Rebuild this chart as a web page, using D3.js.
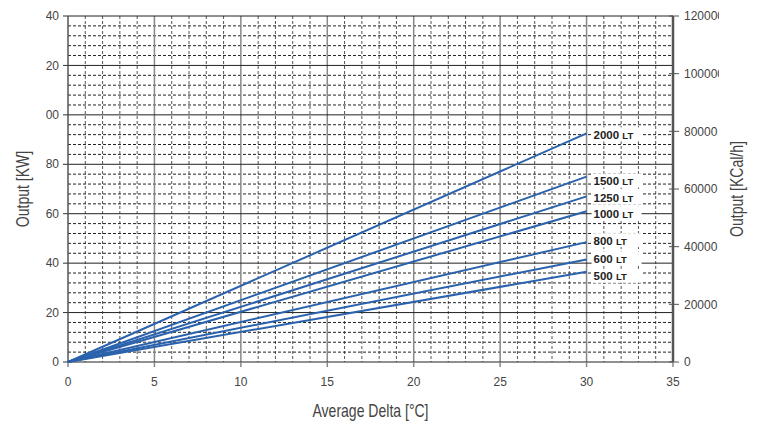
<!DOCTYPE html>
<html>
<head>
<meta charset="utf-8">
<script src="https://cdn.jsdelivr.net/npm/d3@7"></script>
<style>
  body { margin: 0; background: #fff; }
  svg { display: block; }
  .tick-label { font-family: Arial, "Liberation Sans", sans-serif; font-size: 12px; fill: #444; }
  .title { font-family: Arial, "Liberation Sans", sans-serif; font-size: 18px; fill: #444; }
  .lt { font-family: Arial, "Liberation Sans", sans-serif; font-weight: bold; fill: #222; }
</style>
</head>
<body>
<div id="chart"></div>
<script>
// Data: output at delta 0 and 30 °C per tank size
const deltas = [0, 30];
const tankSizes = ['2000', '1500', '1250', '1000', '800', '600', '500'];
const out2000 = [0, 92.5];
const out1500 = [0, 75];
const out1250 = [0, 67];
const out1000 = [0, 61];
const out800 = [0, 48.5];
const out600 = [0, 41.5];
const out500 = [0, 36.5];
const seriesValues = [out2000, out1500, out1250, out1000, out800, out600, out500];

const xTicks = [0, 5, 10, 15, 20, 25, 30, 35];
const yTicks = [0, 20, 40, 60, 80, 100, 120, 140];
const kcalTicks = [0, 20000, 40000, 60000, 80000, 100000, 120000];

const W = 762, H = 423;
const margin = { top: 16, right: 89, bottom: 61, left: 68 };
const width = W - margin.left - margin.right;
const height = H - margin.top - margin.bottom;

const svg = d3.select('#chart').append('svg')
  .attr('width', W)
  .attr('height', H);

// clip the tick labels like the original image
const defs = svg.append('defs');
defs.append('clipPath').attr('id', 'clipLeft')
  .append('rect').attr('x', 46).attr('y', 0).attr('width', 40).attr('height', H);
defs.append('clipPath').attr('id', 'clipRight')
  .append('rect').attr('x', 676).attr('y', 0).attr('width', 43).attr('height', H);

const g = svg.append('g')
  .attr('transform', `translate(${margin.left},${margin.top})`);

const x = d3.scaleLinear().domain([0, 35]).range([0, width]);
const y = d3.scaleLinear().domain([0, 140]).range([height, 0]);
const yR = d3.scaleLinear().domain([0, 120000]).range([height, 0]);

// Grid - vertical
const xMinor = d3.range(1, 35).filter(v => v % 5 !== 0);
g.selectAll('.vminor').data(xMinor).enter().append('line')
  .attr('x1', d => x(d)).attr('x2', d => x(d))
  .attr('y1', 0).attr('y2', height)
  .attr('stroke', '#555').attr('stroke-width', 1)
  .attr('stroke-dasharray', '3,2');

// Grid - horizontal minor
const yMinor = d3.range(4, 140, 4).filter(v => v % 20 !== 0);
g.selectAll('.hminor').data(yMinor).enter().append('line')
  .attr('x1', 0).attr('x2', width)
  .attr('y1', d => y(d)).attr('y2', d => y(d))
  .attr('stroke', '#222').attr('stroke-width', 1)
  .attr('stroke-dasharray', '3,2');

g.selectAll('.vmajor').data(xTicks.filter(v => v > 0 && v < 35)).enter().append('line')
  .attr('x1', d => x(d)).attr('x2', d => x(d))
  .attr('y1', 0).attr('y2', height)
  .attr('stroke', '#888').attr('stroke-width', 1.5);

g.selectAll('.hmajor').data(yTicks).enter().append('line')
  .attr('x1', 0).attr('x2', width)
  .attr('y1', d => y(d)).attr('y2', d => y(d))
  .attr('stroke', '#222').attr('stroke-width', 1);

// Axes lines
g.append('line').attr('x1', 0).attr('x2', 0).attr('y1', 0).attr('y2', height)
  .attr('stroke', '#555').attr('stroke-width', 1.5);
g.append('line').attr('x1', width).attr('x2', width).attr('y1', 0).attr('y2', height)
  .attr('stroke', '#555').attr('stroke-width', 2.5);

// X axis ticks & labels
g.selectAll('.xtick').data(xTicks).enter().append('line')
  .attr('x1', d => x(d)).attr('x2', d => x(d))
  .attr('y1', height).attr('y2', height + 5)
  .attr('stroke', '#888').attr('stroke-width', 1.5);
g.selectAll('.xlab').data(xTicks).enter().append('text')
  .attr('class', 'tick-label')
  .attr('x', d => x(d)).attr('y', height + 24)
  .attr('text-anchor', 'middle')
  .text(d => d);

// Left Y ticks & labels
g.selectAll('.ytick').data(yTicks).enter().append('line')
  .attr('x1', -5).attr('x2', 0)
  .attr('y1', d => y(d)).attr('y2', d => y(d))
  .attr('stroke', '#333');
svg.append('g').attr('clip-path', 'url(#clipLeft)')
  .selectAll('text').data(yTicks).enter().append('text')
  .attr('class', 'tick-label')
  .attr('x', margin.left - 9).attr('y', d => margin.top + y(d))
  .attr('dy', '0.35em')
  .attr('text-anchor', 'end')
  .text(d => d);

// Right Y ticks & labels
g.selectAll('.rtick').data(kcalTicks).enter().append('line')
  .attr('x1', width - 4).attr('x2', width + 6)
  .attr('y1', d => yR(d)).attr('y2', d => yR(d))
  .attr('stroke', '#555');
svg.append('g').attr('clip-path', 'url(#clipRight)')
  .selectAll('text').data(kcalTicks).enter().append('text')
  .attr('class', 'tick-label')
  .attr('x', margin.left + width + 11).attr('y', d => margin.top + yR(d))
  .attr('dy', '0.35em')
  .text(d => d);

// Lines
const line = d3.line()
  .x((d, i) => x(deltas[i]))
  .y(d => y(d));

g.selectAll('.series').data(seriesValues).enter().append('path')
  .attr('d', d => line(d))
  .attr('fill', 'none')
  .attr('stroke', '#2a62ad')
  .attr('stroke-width', 2);

// Series labels
const labelOffsets = [1, 4, 1, 2, -2, -1, 4];
const labels = g.selectAll('.lbl').data(tankSizes).enter().append('g')
  .attr('transform', (d, i) => {
    const v = seriesValues[i];
    return `translate(${x(deltas[1]) + 7},${y(v[v.length - 1]) + labelOffsets[i]})`;
  });
labels.append('rect')
  .attr('x', -2).attr('y', -7).attr('width', 50).attr('height', 14)
  .attr('fill', '#fff');
const lt = labels.append('text')
  .attr('class', 'lt')
  .attr('dy', '0.38em')
  .style('font-size', '11.5px');
lt.append('tspan').text(d => d + ' ');
lt.append('tspan').style('font-size', '9.5px').text('LT');

// Titles (condensed look via horizontal scaling)
svg.append('text').attr('class', 'title')
  .attr('transform', `translate(29,${margin.top + height / 2}) rotate(-90) scale(0.78,1)`)
  .attr('text-anchor', 'middle')
  .text('Output [KW]');
svg.append('text').attr('class', 'title')
  .attr('transform', `translate(743,${margin.top + height / 2}) rotate(-90) scale(0.78,1)`)
  .attr('text-anchor', 'middle')
  .text('Output [KCal/h]');
svg.append('text').attr('class', 'title')
  .attr('transform', `translate(${margin.left + x(17.5)},417) scale(0.78,1)`)
  .attr('text-anchor', 'middle')
  .text('Average Delta [°C]');
</script>
</body>
</html>
